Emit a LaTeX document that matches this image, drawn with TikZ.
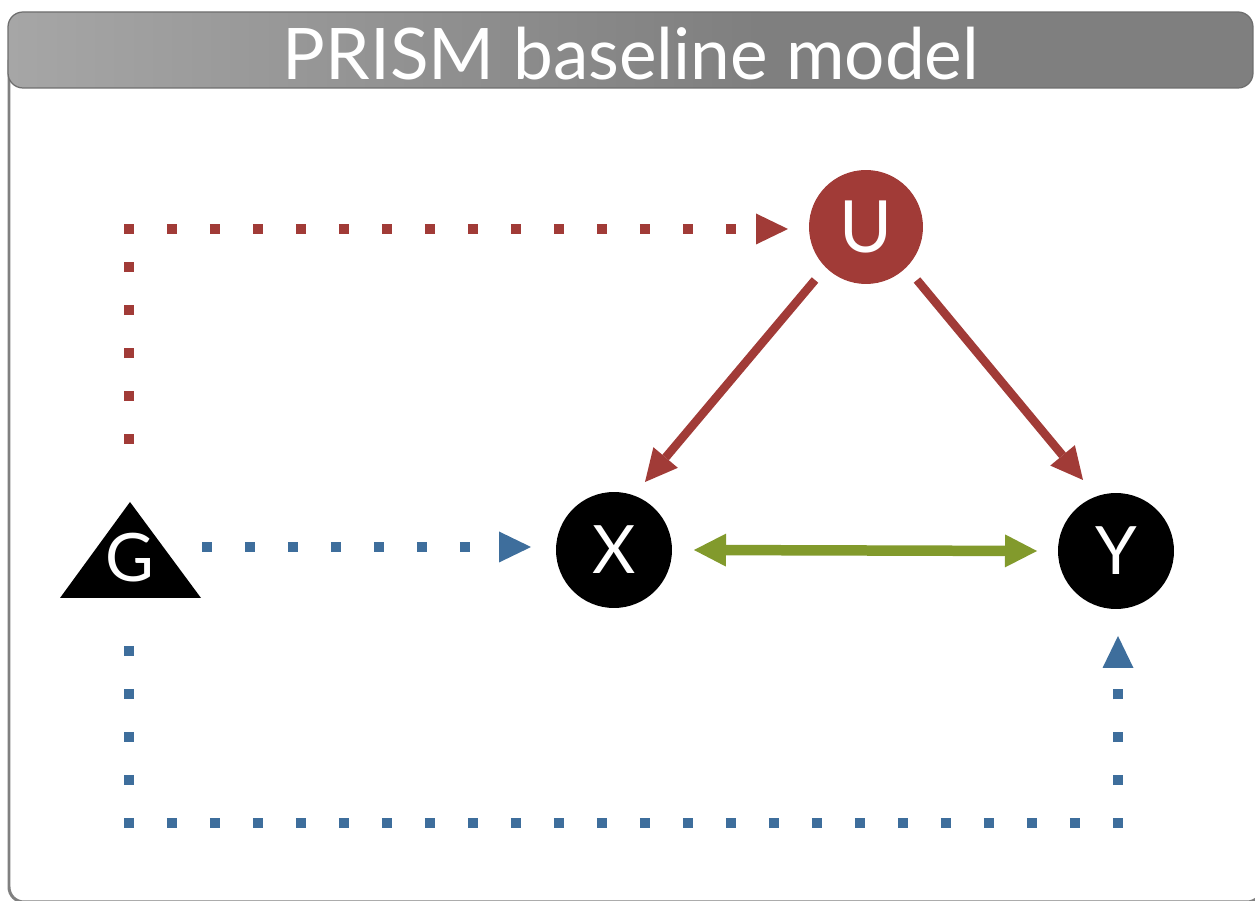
\documentclass[tikz,border=0pt]{standalone}
\usepackage{fontspec}
\setmainfont{Lato}
\usetikzlibrary{arrows.meta}
\definecolor{cred}{HTML}{A13B37}
\definecolor{cblue}{HTML}{3E6E9C}
\definecolor{cgreen}{HTML}{829A2C}
\definecolor{barL}{HTML}{A6A6A6}
\definecolor{barR}{HTML}{7F7F7F}
\definecolor{barline}{HTML}{6E6E6E}
\definecolor{framec}{HTML}{808080}
\begin{document}
\begin{tikzpicture}[x=0.02cm,y=-0.02cm,
  dots/.style={line width=0.2cm, dash pattern=on 0.2cm off 0.66cm, line cap=butt, line join=miter},
  bluedots/.style={dots, draw=cblue},
  reddots/.style={dots, draw=cred},
  dottip/.style={-{Triangle[length=0.64cm,width=0.62cm,line width=0pt]}},
  solidred/.style={draw=cred, line width=0.17cm, -{Triangle[length=0.64cm,width=0.64cm,line width=0pt]}},
  solidgreen/.style={draw=cgreen, line width=0.21cm, {Triangle[length=0.64cm,width=0.66cm,line width=0pt]}-{Triangle[length=0.64cm,width=0.66cm,line width=0pt]}},
  vtx/.style={circle, minimum size=2.32cm, inner sep=0pt, text=white, font=\fontsize{38}{40}\selectfont},
  lbl/.style={text=white, inner sep=0pt, font=\fontsize{38}{40}\selectfont}
]
\useasboundingbox (0,0) rectangle (1255,901);
\begin{scope}
\clip (0,0) rectangle (1255,901);
% frame
\draw[framec, line width=0.06cm, rounded corners=0.3cm] (9,60) -- (9,902) -- (1262,902) -- (1262,850);
% title bar
\begin{scope}
\clip[rounded corners=0.3cm] (8,12) rectangle (1253,88);
\fill[barR] (8,12) rectangle (1253,88);
\shade[left color=barL, right color=barR] (8,12) rectangle (760,88);
\end{scope}
\draw[barline, line width=0.025cm, rounded corners=0.3cm] (8,12) rectangle (1253,88);
\node[text=white, inner sep=0pt, font=\fontsize{40.5}{44}\selectfont] (title) at (631,54) {PRISM baseline model};
\end{scope}

% nodes
\node[vtx, fill=cred, minimum size=2.28cm, font=\fontsize{41}{43}\selectfont] (U) at (866,227) {U};
\node[vtx, fill=black] (X) at (614,550) {X};
\node[vtx, fill=black] (Y) at (1116,551) {Y};
\fill[black] (130,502) -- (201,598) -- (60,598) -- cycle;
\node[lbl] (G) at (130,558) {G};

% coordinates
\coordinate (gu1) at (129,444);
\coordinate (gu2) at (129,262);
\coordinate (gu3) at (124,229);
\coordinate (uin) at (788,229);
\coordinate (gx1) at (202,547);
\coordinate (xin) at (531,547);
\coordinate (gy1) at (129,646);
\coordinate (gy2) at (129,823);
\coordinate (gy3) at (1118,823);
\coordinate (yin) at (1118,636);
\coordinate (ux1) at (815,280);
\coordinate (ux2) at (645,482);
\coordinate (uy1) at (917,280);
\coordinate (uy2) at (1083,480);
\coordinate (xy1) at (694,550);
\coordinate (xy2) at (1037,551);

% dotted connectors
\draw[reddots, dottip] (gu1) -- (gu2) (gu3) -- (uin);
\draw[bluedots, dottip] (gx1) -- (xin);
\draw[bluedots, dottip] (gy1) -- (gy2) -- (gy3) -- (yin);
% solid connectors
\draw[solidred] (ux1) -- (ux2);
\draw[solidred] (uy1) -- (uy2);
\draw[solidgreen] (xy1) -- (xy2);
\end{tikzpicture}
\end{document}
